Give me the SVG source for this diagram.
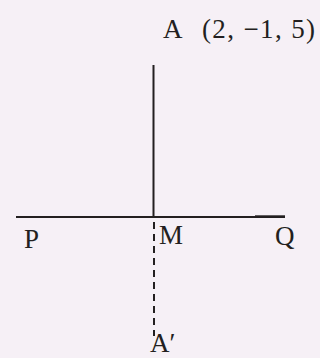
<svg xmlns="http://www.w3.org/2000/svg" width="320" height="358" viewBox="0 0 320 358">
<style>
text{font-family:"Liberation Serif","Times New Roman",serif;font-size:27px;fill:#231f20}
.ln{stroke:#231f20;stroke-width:2;fill:none}
.dash{stroke:#231f20;stroke-width:2;stroke-dasharray:7 5;fill:none}
</style>
<rect width="320" height="358" fill="#f6f0f6"/>
<g id="connectors">
<line class="ln" x1="153.5" y1="65" x2="153.5" y2="217"/>
<line class="ln" x1="16" y1="217" x2="285" y2="217"/>
<line class="ln" x1="255" y1="216.3" x2="285" y2="216.3"/>
<line class="dash" x1="154" y1="222" x2="154" y2="336"/>
</g>
<g id="A"><text x="163" y="38">A</text><text x="202" y="38" textLength="113" lengthAdjust="spacing">(2, −1, 5)</text></g>
<g id="P"><text x="24" y="248">P</text></g>
<g id="M"><text x="159" y="244">M</text></g>
<g id="Q"><text x="275" y="245">Q</text></g>
<g id="A-prime"><text x="150" y="352">A′</text></g>
</svg>
